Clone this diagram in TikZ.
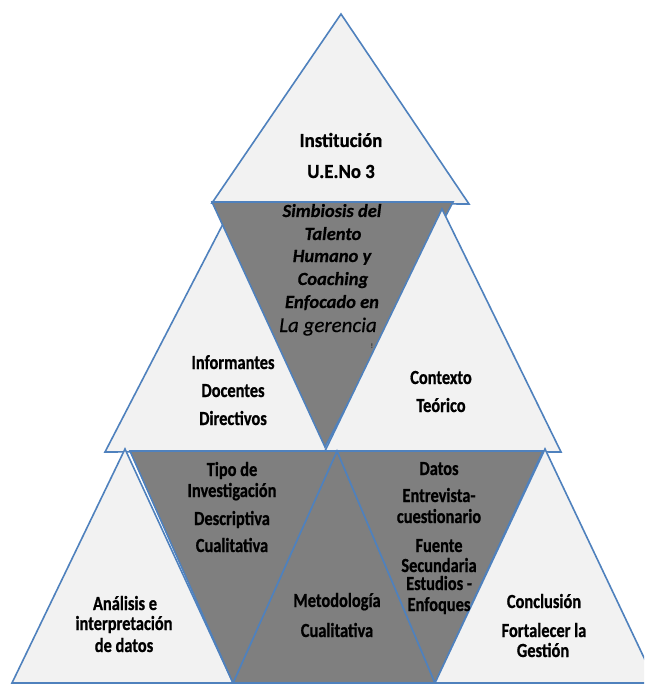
\documentclass[tikz,border=0pt]{standalone}
\usepackage{fontspec}
\setmainfont{Carlito}
\newfontfamily\lblfont[FakeStretch=0.82, BoldFeatures={FakeBold=0.8}]{Carlito}
\newfontfamily\topfont[FakeStretch=0.94, BoldFeatures={FakeBold=0.8}]{Carlito}
\newfontfamily\itfont[ItalicFeatures={FakeBold=0.4}, BoldItalicFeatures={FakeBold=0.6}]{Carlito}
\definecolor{triblue}{HTML}{4F81BD}
\definecolor{trilight}{HTML}{F2F2F2}
\definecolor{trigray}{HTML}{7F7F7F}
\begin{document}
\begin{tikzpicture}[x=1pt,y=-1pt,
  light/.style={fill=trilight, draw=triblue, line width=1.6pt},
  dark/.style={fill=trigray, draw=triblue, line width=1.6pt},
  lbl/.style={font=\lblfont\bfseries\fontsize{20}{20}\selectfont, anchor=base, inner sep=0pt},
  toplbl/.style={font=\topfont\bfseries\fontsize{20}{20}\selectfont, anchor=base, inner sep=0pt},
  ital/.style={font=\itfont\bfseries\itshape\fontsize{18.5}{18.5}\selectfont, anchor=base, inner sep=0pt},
  itreg/.style={font=\itfont\itshape\fontsize{21}{21}\selectfont, anchor=base, inner sep=0pt}]
\useasboundingbox (0,0) rectangle (644,684);
\clip (0,0) rectangle (644,684);
% triangles
\filldraw[light] (341,14) -- (469,204) -- (212,203) -- cycle;
\filldraw[light] (224,222) -- (342,451) -- (105,452) -- cycle;
\filldraw[dark] (212,202) -- (453,202) -- (325,447) -- cycle;
\filldraw[light] (442,209) -- (561,452) -- (325,451) -- cycle;
\filldraw[light] (125,449) -- (233,683) -- (12,683) -- cycle;
\filldraw[dark] (337,451) -- (435,683) -- (233,683) -- cycle;
\filldraw[dark] (130,451) -- (337,451) -- (233,683) -- cycle;
\filldraw[dark] (337,451) -- (543,451) -- (435,683) -- cycle;
\filldraw[light] (545,449) -- (656,683) -- (435,683) -- cycle;
% texts
\node[toplbl] (t1) at (341,147) {Institución};
\node[toplbl] (t2) at (341,178) {U.E.No 3};
\node[ital] (s1) at (332,217) {Simbiosis del};
\node[ital] (s2) at (333,240) {Talento};
\node[ital] (s3) at (332,262) {Humano y};
\node[ital] (s4) at (333,285) {Coaching};
\node[ital] (s5) at (332,308) {Enfocado en};
\node[itreg] (s6) at (328,332) {La gerencia};
\node[font=\fontsize{7}{7}\selectfont, inner sep=0pt] (s7) at (372,346) {!};
\node[lbl] (i1) at (233,369) {Informantes};
\node[lbl] (i2) at (233,397) {Docentes};
\node[lbl] (i3) at (233,425) {Directivos};
\node[lbl] (c1) at (441,384) {Contexto};
\node[lbl] (c2) at (441,412) {Teórico};
\node[lbl] (p1) at (232,476) {Tipo de};
\node[lbl] (p2) at (232,497) {Investigación};
\node[lbl] (p3) at (232,525) {Descriptiva};
\node[lbl] (p4) at (232,552) {Cualitativa};
\node[lbl] (d1) at (439,475) {Datos};
\node[lbl] (d2) at (439,502) {Entrevista-};
\node[lbl] (d3) at (439,523) {cuestionario};
\node[lbl] (d4) at (439,552) {Fuente};
\node[lbl] (d5) at (439,572) {Secundaria};
\node[lbl] (d6) at (439,590) {Estudios -};
\node[lbl] (d7) at (439,611) {Enfoques};
\node[lbl] (a1) at (125,610) {Análisis e};
\node[lbl] (a2) at (124,630) {interpretación};
\node[lbl] (a3) at (124,652) {de datos};
\node[lbl] (m1) at (337,607) {Metodología};
\node[lbl] (m2) at (337,637) {Cualitativa};
\node[lbl] (k1) at (544,608) {Conclusión};
\node[lbl] (k2) at (544,637) {Fortalecer la};
\node[lbl] (k3) at (543,657) {Gestión};
\end{tikzpicture}
\end{document}
